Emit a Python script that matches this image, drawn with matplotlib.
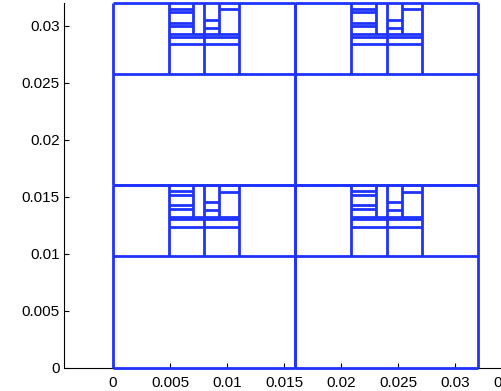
import matplotlib
matplotlib.use('Agg')
import matplotlib.pyplot as plt

# lower-left corners of the four repeated tiles and their side
tile_x = [0.0, 0.016, 0.0, 0.016]
tile_y = [0.0, 0.0, 0.016, 0.016]
tile_size = 0.016

# segments of one tile, relative to its lower-left corner
h_y = [0.0, 0.016, 0.0098,
       0.01237, 0.01303, 0.01325,
       0.01548, 0.01518, 0.01425, 0.01395,
       0.01455, 0.01384,
       0.01544]
h_x0 = [0.0, 0.0, 0.0,
        0.0049, 0.0049, 0.0049,
        0.0049, 0.0049, 0.0049, 0.0049,
        0.008, 0.008,
        0.00932]
h_x1 = [0.016, 0.016, 0.016,
        0.0111, 0.0111, 0.0111,
        0.00706, 0.00706, 0.00706, 0.00706,
        0.00932, 0.00932,
        0.0111]

v_x = [0.0, 0.016, 0.0049, 0.008, 0.0111, 0.00706, 0.00932]
v_y0 = [0.0, 0.0, 0.0098, 0.0098, 0.0098, 0.01325, 0.01325]
v_y1 = [0.016, 0.016, 0.016, 0.016, 0.016, 0.016, 0.016]

x_ticks = [0, 0.005, 0.01, 0.015, 0.02, 0.025, 0.03, 0.035]
x_labels = ['0', '0.005', '0.01', '0.015', '0.02', '0.025', '0.03', '0.035']
y_ticks = [0, 0.005, 0.01, 0.015, 0.02, 0.025, 0.03]
y_labels = ['0', '0.005', '0.01', '0.015', '0.02', '0.025', '0.03']


def draw_mesh():
    plt.rcParams['font.family'] = ['Liberation Sans', 'DejaVu Sans']
    fig = plt.figure(figsize=(5.02, 3.91), dpi=100)
    fig.patch.set_facecolor('white')

    # axes reach past the right edge of the figure, like the cropped original
    ax = fig.add_axes([64.5 / 502, 23.5 / 391, 461.7 / 502, 364.5 / 391])

    blue = '#1f33ff'
    for ox, oy in zip(tile_x, tile_y):
        ax.hlines([oy + y for y in h_y], [ox + x for x in h_x0],
                  [ox + x for x in h_x1], colors=blue, linewidth=2.0,
                  clip_on=False, zorder=3)
        ax.vlines([ox + x for x in v_x], [oy + y for y in v_y0],
                  [oy + y for y in v_y1], colors=blue, linewidth=2.0,
                  clip_on=False, zorder=3)

    ax.set_xlim(-0.00425, 0.03625)
    ax.set_ylim(0, 0.032)

    ax.set_xticks(x_ticks)
    ax.set_xticklabels(x_labels)
    ax.set_yticks(y_ticks)
    ax.set_yticklabels(y_labels)

    ax.spines['top'].set_visible(False)
    ax.spines['right'].set_visible(False)
    for s in ['left', 'bottom']:
        ax.spines[s].set_linewidth(0.8)
    ax.tick_params(axis='both', direction='in', length=3.5, width=0.8,
                   labelsize=11, colors='black')
    ax.tick_params(axis='x', pad=6)
    ax.tick_params(axis='y', pad=3.5)

    fig.savefig('out.png', dpi=100)


if __name__ == "__main__":
    draw_mesh()
